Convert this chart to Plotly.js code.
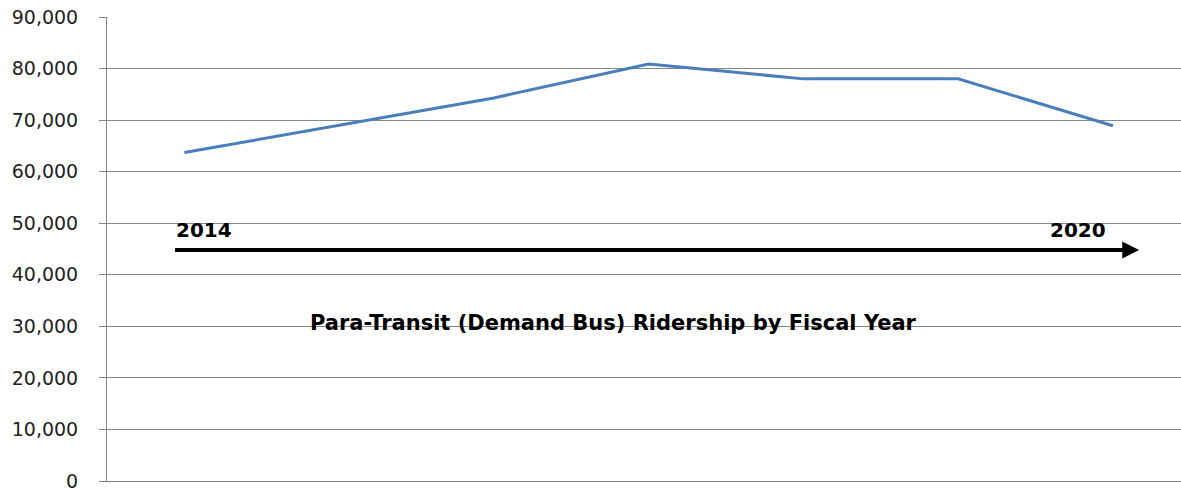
<!DOCTYPE html>
<html><head><meta charset="utf-8">
<script src="https://cdn.plot.ly/plotly-3.0.1.min.js"></script>
<style>html,body{margin:0;padding:0;background:#fff;overflow:hidden}#chart{width:1181px;height:502px}</style>
</head><body><div id="chart"></div>
<script>
const years = ['2014','2015','2016','2017','2018','2019','2020'];
const ridership = [63700, 69000, 74300, 80900, 78000, 78000, 68900];
const yTicks = [0,10000,20000,30000,40000,50000,60000,70000,80000,90000];
const chartTitle = 'Para-Transit (Demand Bus) Ridership by Fiscal Year';
const startLabel = years[0], endLabel = years[years.length-1];

const trace = {
  x: years.map((_, i) => i), y: ridership, type: 'scatter', mode: 'lines',
  line: {color: '#4a7ebb', width: 3}, hoverinfo: 'skip'
};
const layout = {
  width: 1181, height: 502,
  margin: {l: 107, r: 0, t: 17, b: 21},
  paper_bgcolor: '#fff', plot_bgcolor: '#fff',
  showlegend: false,
  xaxis: {range: [-0.5, 6.44], showgrid: false, zeroline: false, showticklabels: false,
          showline: true, linecolor: '#868686', linewidth: 1, fixedrange: true},
  yaxis: {range: [0, 90000], tickvals: yTicks, tickformat: ',d', automargin: false,
          showgrid: true, gridcolor: '#868686', gridwidth: 1,
          zeroline: false,
          showline: true, linecolor: '#868686', linewidth: 1,
          ticks: 'outside', ticklen: 7, tickcolor: '#868686', ticklabelstandoff: 17,
          tickfont: {family: 'DejaVu Sans', size: 19, color: '#222'}},
  annotations: [
    {xref: 'x', yref: 'y', axref: 'x', ayref: 'y',
     x: 6.17, y: 44800, ax: -0.07, ay: 44800, text: '', showarrow: true,
     arrowhead: 2, arrowsize: 0.85, arrowwidth: 4, arrowcolor: '#000'},
    {xref: 'x', yref: 'y', x: -0.07, y: 48600, xanchor: 'left', yanchor: 'middle',
     text: '<b>' + startLabel + '</b>', showarrow: false,
     font: {family: 'DejaVu Sans', size: 20, color: '#000'}},
    {xref: 'x', yref: 'y', x: 5.97, y: 48600, xanchor: 'right', yanchor: 'middle',
     text: '<b>' + endLabel + '</b>', showarrow: false,
     font: {family: 'DejaVu Sans', size: 20, color: '#000'}},
    {xref: 'x', yref: 'y', x: 2.77, y: 30600, xanchor: 'center', yanchor: 'middle',
     text: '<b>' + chartTitle + '</b>', showarrow: false,
     font: {family: 'DejaVu Sans', size: 21, color: '#000'}}
  ]
};
Plotly.newPlot('chart', [trace], layout, {displayModeBar: false, staticPlot: true});
</script></body></html>
